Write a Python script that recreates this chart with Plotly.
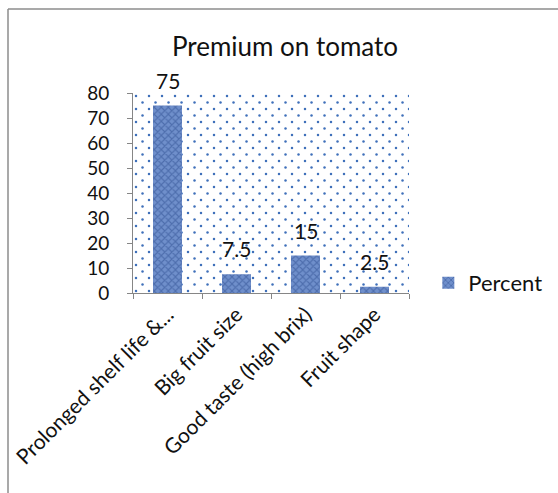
import base64
import plotly.graph_objects as go

categories = ["Prolonged shelf life &...", "Big fruit size", "Good taste (high brix)", "Fruit shape"]
percent = [75, 7.5, 15, 2.5]
labels = ["75", "7.5", "15", "2.5"]
series_name = "Percent"
title_text = "Premium on tomato"

W, H = 558, 493
L, R, T, B = 133, 149, 93, 200
PW, PH = W - L - R, H - T - B

# dotted background pattern for the plot area (decoration)
cell = 13
dots = []
for yy in range(0, PH + cell, cell):
    for xx in range(0, PW + cell, cell):
        dots.append(f'<circle cx="{xx+3}" cy="{yy+3}" r="1.25" fill="#3f70ba"/>')
        dots.append(f'<circle cx="{xx+3+cell/2}" cy="{yy+3+cell/2}" r="1.25" fill="#3f70ba"/>')
svg = (f'<svg xmlns="http://www.w3.org/2000/svg" width="{PW}" height="{PH}" '
       f'viewBox="0 0 {PW} {PH}" preserveAspectRatio="none">' + "".join(dots) + "</svg>")
src = "data:image/svg+xml;base64," + base64.b64encode(svg.encode()).decode()

FONT = "Lato, Carlito, Calibri, sans-serif"

fig = go.Figure()
fig.add_trace(go.Bar(
    x=categories, y=percent, name=series_name,
    marker=dict(color="#6585c2", line=dict(width=0),
                pattern=dict(shape="x", fgcolor="#2e4e90", bgcolor="#6f8fcb", size=5, solidity=0.4)),
    showlegend=True,
))

annotations = [dict(x=c, y=v, text=t, xref="x", yref="y", showarrow=False,
                    yanchor="bottom", yshift=11, font=dict(size=21, color="#111", family=FONT))
               for c, v, t in zip(categories, percent, labels)]

fig.update_layout(
    width=W, height=H,
    margin=dict(l=L, r=R, t=T, b=B, autoexpand=False),
    paper_bgcolor="white", plot_bgcolor="white",
    font=dict(family=FONT, size=19, color="#111"),
    bargap=0.58,
    title=dict(text=title_text, x=285 / W, xanchor="center", xref="container",
               y=1 - 47 / H, yanchor="middle", yref="container",
               font=dict(size=26, color="#111", family=FONT)),
    xaxis=dict(showline=True, linecolor="#868686", linewidth=1, ticks="outside",
               tickson="boundaries", ticklen=5, tickcolor="#868686", tickangle=-45,
               showgrid=False, tickfont=dict(size=21, color="#111"), automargin=False),
    yaxis=dict(range=[0, 80], dtick=10, showline=True, linecolor="#868686", linewidth=1,
               ticks="outside", ticklen=5, tickcolor="#868686", showgrid=False,
               zeroline=False, tickfont=dict(size=19, color="#111"), ticklabelstandoff=14,
               automargin=False),
    legend=dict(x=1.07, y=0.05, xanchor="left", yanchor="middle",
                font=dict(size=22, color="#111"), itemwidth=30, bgcolor="rgba(0,0,0,0)"),
    annotations=annotations,
    images=[dict(source=src, xref="x domain", yref="y domain", x=0, y=1,
                 sizex=1, sizey=1, xanchor="left", yanchor="top",
                 sizing="stretch", layer="below")],
    shapes=[
        dict(type="line", xref="paper", yref="paper", x0=(8 - L) / PW, x1=(8 - L) / PW,
             y0=(T + PH - 9) / PH, y1=-B / PH - 0.1,
             line=dict(color="#8c8c8c", width=1.5)),
        dict(type="line", xref="paper", yref="paper", x0=(8 - L) / PW, x1=(W - L + 10) / PW,
             y0=(T + PH - 9) / PH, y1=(T + PH - 9) / PH,
             line=dict(color="#8c8c8c", width=1.5)),
    ],
)

fig.write_html("out.html")
